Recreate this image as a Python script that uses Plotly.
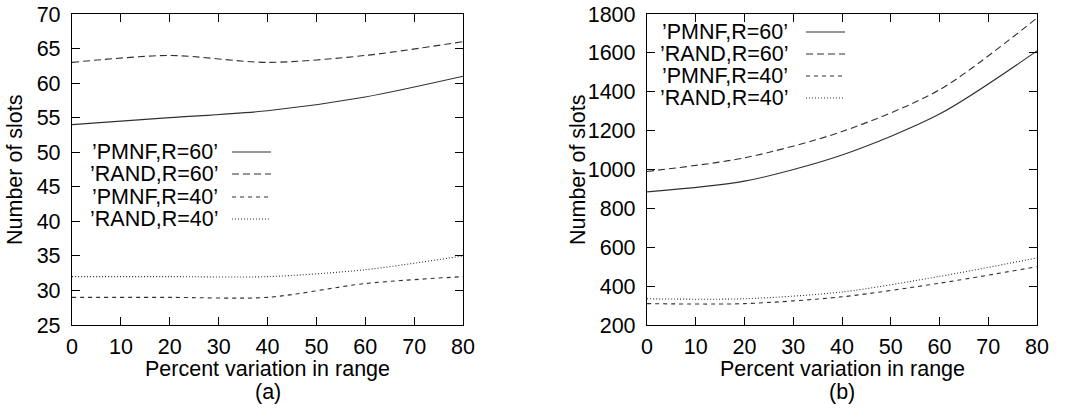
import plotly.graph_objects as go

x_vals = [0, 20, 40, 60, 80]

# Panel (a)
a_pmnf60 = [54, 55, 56, 58, 61]
a_rand60 = [63, 64, 63, 64, 66]
a_pmnf40 = [29, 29, 29, 31, 32]
a_rand40 = [32, 32, 32, 33, 35]

# Panel (b)
b_pmnf60 = [885, 940, 1075, 1285, 1610]
b_rand60 = [990, 1060, 1195, 1410, 1780]
b_pmnf40 = [310, 310, 345, 415, 500]
b_rand40 = [335, 335, 370, 450, 545]

series_names = ["’PMNF,R=60’", "’RAND,R=60’", "’PMNF,R=40’", "’RAND,R=40’"]
dashes = ["solid", "7px,4px", "4px,4px", "1px,2px"]

x_ticks = list(range(0, 81, 10))
a_yticks = list(range(25, 71, 5))
b_yticks = list(range(200, 1801, 200))

FONT = "Liberation Sans, Arial, Helvetica, sans-serif"
FS = 21.5
LINE_COLOR = "#303030"

W, H = 1070, 409


def px(x):
    return x / W


def py(y):
    return 1 - y / H


fig = go.Figure()

panel_a = [a_pmnf60, a_rand60, a_pmnf40, a_rand40]
panel_b = [b_pmnf60, b_rand60, b_pmnf40, b_rand40]

for ys, name, d in zip(panel_a, series_names, dashes):
    fig.add_trace(go.Scatter(x=x_vals, y=ys, mode="lines", name=name,
                             line=dict(color=LINE_COLOR, width=1.1, dash=d,
                                       shape="spline", smoothing=0.8),
                             xaxis="x", yaxis="y", showlegend=False))
for ys, name, d in zip(panel_b, series_names, dashes):
    fig.add_trace(go.Scatter(x=x_vals, y=ys, mode="lines", name=name,
                             line=dict(color=LINE_COLOR, width=1.1, dash=d,
                                       shape="spline", smoothing=0.8),
                             xaxis="x2", yaxis="y2", showlegend=False))

ax_common = dict(showline=True, linecolor="black", linewidth=1.3, mirror="ticks",
                 ticks="inside", ticklen=8, tickwidth=1.3, tickcolor="black",
                 showgrid=False, zeroline=False, automargin=False,
                 tickfont=dict(family=FONT, size=FS, color="black"))

ydom = [py(325), py(14)]
fig.update_layout(
    template="none",
    width=W, height=H, autosize=False,
    margin=dict(l=0, r=0, t=0, b=0, pad=0),
    paper_bgcolor="white", plot_bgcolor="white",
    showlegend=False,
    font=dict(family=FONT, size=FS, color="black"),
    xaxis=dict(domain=[px(72), px(463)], range=[0, 80], tickvals=x_ticks,
               ticklabelstandoff=2, anchor="y", **ax_common),
    yaxis=dict(domain=ydom, range=[25, 70], tickvals=a_yticks,
               ticklabelstandoff=6, anchor="x", **ax_common),
    xaxis2=dict(domain=[px(647), px(1037)], range=[0, 80], tickvals=x_ticks,
                ticklabelstandoff=2, anchor="y2", **ax_common),
    yaxis2=dict(domain=ydom, range=[200, 1800], tickvals=b_yticks,
                ticklabelstandoff=6, anchor="x2", **ax_common),
)

# Axis titles and panel labels
for cx, ytx, lab in [((72 + 463) / 2, 15, "(a)"),
                     ((647 + 1037) / 2, 578, "(b)")]:
    fig.add_annotation(x=px(cx), y=py(369), xref="paper", yref="paper",
                       text="Percent variation in range", showarrow=False,
                       xanchor="center", yanchor="middle", font=dict(size=FS))
    fig.add_annotation(x=px(cx), y=py(392), xref="paper", yref="paper",
                       text=lab, showarrow=False,
                       xanchor="center", yanchor="middle", font=dict(size=FS))
    fig.add_annotation(x=px(ytx), y=py(170), xref="paper", yref="paper",
                       text="Number of slots", showarrow=False, textangle=-90,
                       xanchor="center", yanchor="middle", font=dict(size=FS))

# Custom legends (gnuplot style: text right-aligned, sample line to the right)
legend_specs = [
    (220, 232, 271, [152, 174, 197, 219]),
    (790, 806, 845, [32, 54, 76, 98]),
]
for text_right, l0, l1, rows in legend_specs:
    for name, d, ry in zip(series_names, dashes, rows):
        fig.add_annotation(x=px(text_right), y=py(ry), xref="paper", yref="paper",
                           text=name, showarrow=False, xanchor="right", yanchor="middle",
                           font=dict(size=FS))
        fig.add_shape(type="line", xref="paper", yref="paper",
                      x0=px(l0), x1=px(l1), y0=py(ry), y1=py(ry),
                      line=dict(color=LINE_COLOR, width=1.1, dash=d))

fig.write_html("out.html", config={"displayModeBar": False},
               post_script="document.body.style.margin='0';document.body.style.overflow='hidden';")
